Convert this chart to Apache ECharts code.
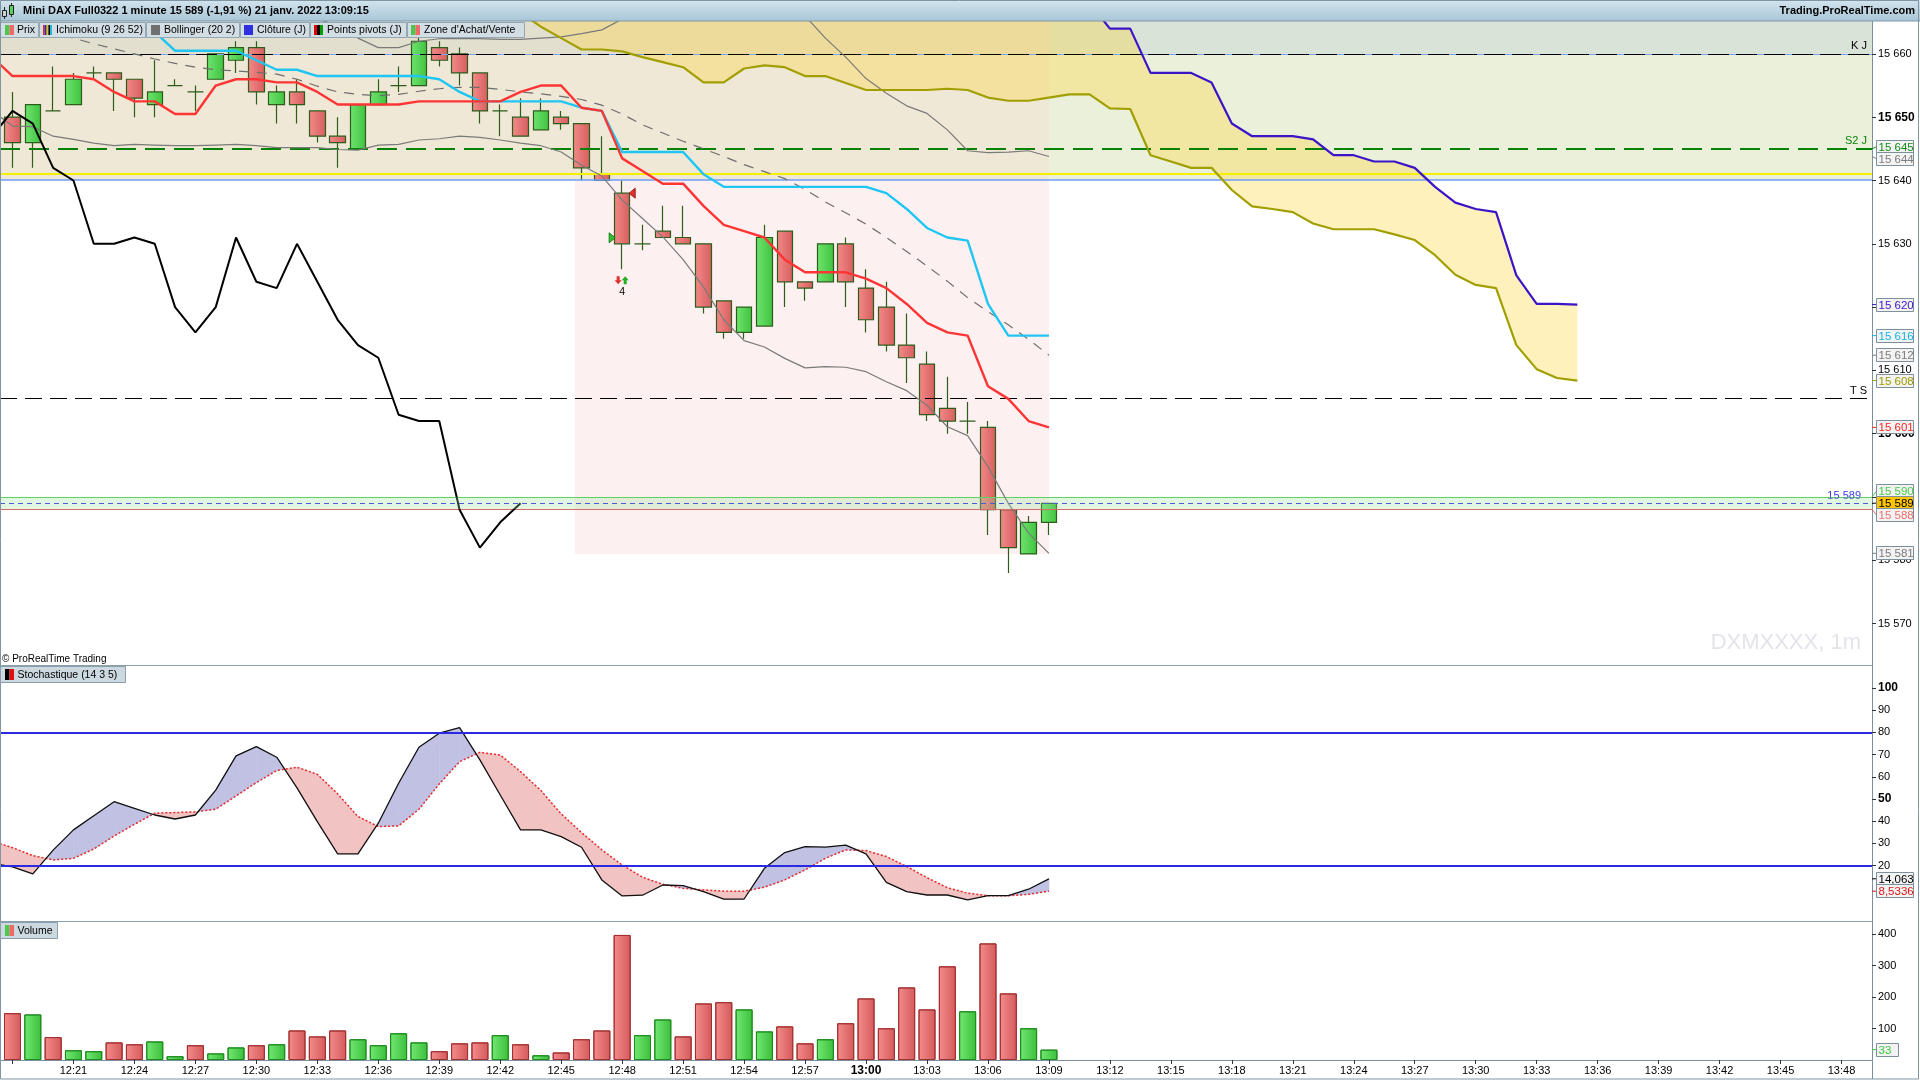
<!DOCTYPE html>
<html><head><meta charset="utf-8"><title>Mini DAX Full0322</title>
<script src="https://cdn.jsdelivr.net/npm/echarts@6.0.0/dist/echarts.min.js"></script>
<style>html,body{margin:0;padding:0;background:#fff;overflow:hidden}#chart{width:1920px;height:1080px}</style>
</head><body><div id="chart"></div><script>
// ================= DATA =================
const candleTimes = ['12:18','12:19','12:20','12:21','12:22','12:23','12:24','12:25','12:26','12:27','12:28','12:29','12:30','12:31','12:32','12:33','12:34','12:35','12:36','12:37','12:38','12:39','12:40','12:41','12:42','12:43','12:44','12:45','12:46','12:47','12:48','12:49','12:50','12:51','12:52','12:53','12:54','12:55','12:56','12:57','12:58','12:59','13:00','13:01','13:02','13:03','13:04','13:05','13:06','13:07','13:08','13:09'];
const open  = [15650,15646,15651,15652,15657,15657,15656,15652,15655,15654,15656,15659,15661,15652,15654,15651,15647,15645,15652,15655,15655,15661,15660,15657,15651,15650,15648,15650,15649,15641,15638,15630,15632,15631,15630,15621,15616,15617,15632,15624,15624,15630,15623,15620,15614,15611,15604,15602,15601,15588,15581,15586];
const close = [15646,15652,15651,15656,15657,15656,15653,15654,15655,15654,15660,15661,15654,15654,15652,15647,15646,15652,15654,15655,15662,15659,15657,15651,15651,15647,15651,15649,15642,15640,15630,15630,15631,15630,15620,15616,15620,15631,15624,15623,15630,15624,15618,15614,15612,15603,15602,15602,15588,15582,15586,15589];
const low   = [15642,15642,15651,15652,15656,15651,15650,15650,15655,15651,15656,15657,15652,15649,15649,15646,15642,15645,15652,15654,15655,15658,15655,15649,15647,15647,15648,15648,15640,15640,15626,15629,15631,15630,15619,15615,15615,15617,15620,15621,15624,15620,15616,15613,15608,15602,15600,15600,15584,15578,15581,15584];
const high  = [15654,15652,15658,15657,15658,15657,15656,15659,15656,15655,15660,15662,15662,15655,15656,15651,15650,15652,15656,15658,15663,15662,15661,15657,15652,15653,15653,15651,15649,15647,15640,15633,15636,15636,15630,15621,15620,15633,15632,15624,15630,15631,15626,15624,15619,15613,15609,15605,15602,15588,15587,15589];
const volume   = [149,145,73,31,28,56,50,59,12,47,21,40,47,50,94,75,94,66,47,85,56,28,53,56,79,50,15,24,66,94,398,79,129,75,180,184,161,91,107,53,66,117,196,101,231,161,298,155,371,212,101,33];
const volumeUp = [0,1,0,1,1,0,0,1,1,0,1,1,0,1,0,0,0,1,1,1,1,0,0,0,1,0,1,0,0,0,0,1,1,0,0,0,1,1,0,0,1,0,0,0,0,0,0,1,0,0,1,1];

const lineTimes = ['12:17','12:18','12:19','12:20','12:21','12:22','12:23','12:24','12:25','12:26','12:27','12:28','12:29','12:30','12:31','12:32','12:33','12:34','12:35','12:36','12:37','12:38','12:39','12:40','12:41','12:42','12:43','12:44','12:45','12:46','12:47','12:48','12:49','12:50','12:51','12:52','12:53','12:54','12:55','12:56','12:57','12:58','12:59','13:00','13:01','13:02','13:03','13:04','13:05','13:06','13:07','13:08','13:09'];
const tenkan = [15659.5,15656.5,15656.5,15656.5,15656.5,15656,15654,15652.5,15652.5,15650.5,15650.5,15655,15656,15656,15655.5,15655.5,15654,15652,15652,15652,15652,15652.5,15652.5,15652.5,15652.5,15652.5,15654,15655,15655,15651.5,15651,15643.5,15641.5,15639.5,15639.5,15636,15633,15632,15631,15627.5,15625.5,15625.5,15625.5,15624.5,15623,15620.5,15617.5,15616,15615.5,15607.5,15605.5,15602,15601];
const kijun = [15664,15664,15664,15664,15664,15664,15664,15664,15663.5,15660.5,15660.5,15660.5,15660.5,15659,15657.5,15657.5,15656.5,15656.5,15656.5,15656.5,15656.5,15656.5,15656,15654,15652.5,15652.5,15652.5,15652.5,15652.5,15651.5,15651,15644.5,15644.5,15644.5,15644.5,15641,15639,15639,15639,15639,15639,15639,15639,15639,15638,15635.5,15632.5,15631,15630.5,15620.5,15615.5,15615.5,15615.5];
const bbUpper = [15667,15667,15666.5,15666.5,15666,15666,15666,15666.5,15666.5,15666.5,15666,15666,15666,15666,15665.8,15665.5,15665.5,15664.5,15662.5,15661,15661,15662,15662.4,15662.4,15662.4,15662.3,15662.3,15662.5,15662.7,15663.2,15663.8,15665.5,15667,15668,15668.5,15669,15669,15669,15668.5,15668,15666,15662.5,15659.5,15656.1,15653.8,15651.8,15650.6,15648,15644.7,15644.4,15644.5,15644.7,15643.8];
const bbMiddle = [15665,15664.5,15664,15663.3,15662.5,15661.6,15660.8,15660,15659.2,15658.5,15657.9,15657.5,15657.3,15657.1,15656.8,15656,15654.9,15654,15653.6,15653.4,15653.6,15654.1,15654.5,15654.7,15654.7,15654.4,15654,15653.7,15653.3,15652.8,15651.9,15650.5,15648.8,15647.5,15646.2,15645,15643.8,15642.5,15641.4,15640.3,15638.6,15636.6,15634.9,15633.1,15631,15628.8,15626.5,15624.1,15621.5,15619.3,15617.2,15614.9,15612.4];
const bbLower = [15651,15648.6,15648.5,15647,15646.5,15645.9,15645.5,15645.7,15645.6,15645.5,15645.5,15645.6,15645.7,15645.5,15645.2,15645.2,15645.2,15644.9,15644.8,15645.6,15645.7,15646.4,15646.6,15647,15646.8,15646.4,15645.9,15645.5,15644.5,15642.4,15640.7,15636.9,15634,15631.1,15627.5,15623.2,15618,15614.7,15613.7,15611.9,15610.4,15610.6,15610.5,15609.8,15608.2,15606.8,15604.5,15601.1,15599.7,15594.8,15589,15584.3,15581.1];
const chikouTimes = ['12:17','12:18','12:19','12:20','12:21','12:22','12:23','12:24','12:25','12:26','12:27','12:28','12:29','12:30','12:31','12:32','12:33','12:34','12:35','12:36','12:37','12:38','12:39','12:40','12:41','12:42','12:43'];
const chikou = [15647,15651,15649,15642,15640,15630,15630,15631,15630,15620,15616,15620,15631,15624,15623,15630,15624,15618,15614,15612,15603,15602,15602,15588,15582,15586,15589];
const spanTimes = ['12:43','12:44','12:45','12:46','12:47','12:48','12:49','12:50','12:51','12:52','12:53','12:54','12:55','12:56','12:57','12:58','12:59','13:00','13:01','13:02','13:03','13:04','13:05','13:06','13:07','13:08','13:09','13:10','13:11','13:12','13:13','13:14','13:15','13:16','13:17','13:18','13:19','13:20','13:21','13:22','13:23','13:24','13:25','13:26','13:27','13:28','13:29','13:30','13:31','13:32','13:33','13:34','13:35'];
const spanA = [15666.5,15664.3,15662.5,15660.7,15660.7,15660.4,15659.5,15658.7,15657.9,15655.5,15655.5,15657.7,15658.2,15657.9,15656.5,15656.5,15655.4,15654.3,15654.3,15654.3,15654.3,15654.5,15654.3,15653.1,15652.6,15652.6,15653.1,15653.6,15653.6,15651.4,15651.3,15644,15643,15642,15642,15638.5,15635.9,15635.5,15635,15633.2,15632.3,15632.3,15632.3,15631.5,15630.6,15628.2,15625.1,15623.5,15623,15614,15610.2,15608.8,15608.4];
const spanB = [15672,15672,15672,15671.5,15671.5,15671.5,15671,15671,15671,15671,15671,15670.5,15670.5,15670.5,15670.5,15670.5,15670.5,15670,15670,15670,15670,15670,15670,15670,15670,15670,15670,15669.5,15668,15664,15664,15657,15657,15657,15655.5,15649,15647,15647,15647,15646.5,15644,15644,15643,15643,15642,15639,15636.5,15635.5,15635,15625,15620.5,15620.5,15620.4];
const stochK = [21,19.5,16.3,27,36.1,42.5,48.8,45.8,42.8,41,42.8,54,69.4,73.6,68.8,55,39.8,25.3,25.3,39.1,57.1,73.3,79.6,82.1,67.6,51.8,36.1,36.1,33.1,28.3,13.6,6.4,6.7,11.3,11,8.3,4.9,5,18.8,25.9,28.6,28.3,29.2,25.3,12.5,8.3,6.8,6.8,4.6,6.5,6.5,9.4,14.063];
const stochD = [31,28.1,24.5,22.6,23.3,27.5,33.4,38.6,43.6,43.9,44.2,45.4,51.4,57.4,62.8,64.3,61.1,52.3,42.1,37.6,37.9,45.4,56.8,66.8,71,69.8,62.3,53.8,43.3,34.9,27.1,20.3,14.8,11.6,9.8,9.1,8.5,8.5,10.3,13.6,18.1,23.3,27.1,26.8,24.1,19.6,14.6,10.1,7.6,6.5,6.5,7.1,8.5336];

const pivotKJ = 15660, pivotS2J = 15645, pivotTS = 15605.6;
const prevDayClose = 15640.1, yellowLevel = 15641;
const zoneHigh = 15590, zoneLow = 15588.1;
const zoneStart  = ['12:17','12:17','12:17','12:17','12:45:40'];
const zoneEnd    = ['13:50','13:50','13:09','13:09','13:09'];
const zoneBottom = [15660,15640.1,15660,15640.1,15581];
const zoneTop    = [15670,15660,15670,15660,15640.1];
const priceTicks = [15570,15580,15590,15600,15610,15620,15630,15640,15650,15660];
const boldPriceTicks = [15600,15650];
const stochTicks = [20,30,40,50,60,70,80,90,100];
const boldStochTicks = [50,100];
const stochLevels = [80,20];
const volTicks = [100,200,300,400];
const tickTimes  = ['12:18','12:21','12:24','12:27','12:30','12:33','12:36','12:39','12:42','12:45','12:48','12:51','12:54','12:57','13:00','13:03','13:06','13:09','13:12','13:15','13:18','13:21','13:24','13:27','13:30','13:33','13:36','13:39','13:42','13:45','13:48'];
const labelTimes = ['12:21','12:24','12:27','12:30','12:33','12:36','12:39','12:42','12:45','12:48','12:51','12:54','12:57','13:00','13:03','13:06','13:09','13:12','13:15','13:18','13:21','13:24','13:27','13:30','13:33','13:36','13:39','13:42','13:45','13:48'];
const boldTimeLabels = ['13:00'];
const signalTime = '12:48', signalCount = '4';

// ================= LAYOUT / STYLE =================
const FONT = '"Liberation Sans", Arial, sans-serif';
const X_MIN = 17.385, X_MAX = 109.5;
const P_MIN = 15563.46, P_MAX = 15665.2;
const S_MIN = -4.9, S_MAX = 110.3;
const V_MAX = 442.4;
const PLOT_W = 1872;
const G = [{left:0, top:21, width:PLOT_W, height:644},{left:0, top:665, width:PLOT_W, height:256},{left:0, top:921, width:PLOT_W, height:139}];
const ZONE_COLORS = ['#d9e3d8','#eaf0da','#e3dfcf','#efe8d6','#fdf0f0'];
const CLOUD_FILL = 'rgba(255,214,50,0.33)';
const AXIS_COLOR = '#7890a0';

const toMin = s => { const p = s.split(':').map(Number); return p[0]*60 + p[1] + (p[2]||0)/60 - 720; };
const minLabel = v => { const t = Math.round(v) + 720; return Math.floor(t/60) + ':' + String(t%60).padStart(2,'0'); };
const thou = v => String(v).replace(/\B(?=(\d{3})+(?!\d))/g, ' ');
const pairs = (times, vals) => times.map((t,i) => [toMin(t), vals[i]]);
const lg = (a,b,dir) => new echarts.graphic.LinearGradient(0,0,dir?0:1,dir?1:0,[{offset:0,color:a},{offset:1,color:b}]);
const clipOf = cs => ({type:'rect', shape:{x:cs.x, y:cs.y, width:cs.width, height:cs.height}});

const GREEN_BODY = lg('#6fe46f','#40c240'), RED_BODY = lg('#f38a8a','#d65e5e');
const GREEN_VOL = lg('#72e872','#3cbe3c'), RED_VOL = lg('#f48c8c','#d45a5a');

const chart = echarts.init(document.getElementById('chart'), null, {width:1920, height:1080});

const xAxes = G.map((g,i) => ({
  type:'value', gridIndex:i, min:X_MIN, max:X_MAX,
  axisLine:{show:i===2, lineStyle:{color:AXIS_COLOR}},
  axisTick:{show:i===2, length:4, customValues: tickTimes.map(toMin), lineStyle:{color:'#333'}},
  axisLabel:{show:i===2, customValues: labelTimes.map(toMin), fontSize:11, color:'#000', margin:5, fontFamily:FONT,
    formatter: v => boldTimeLabels.includes(minLabel(v)) ? '{b|'+minLabel(v)+'}' : minLabel(v),
    rich:{b:{fontWeight:'bold', fontSize:12, fontFamily:FONT}}},
  splitLine:{show:false}
}));

const yAx = (i, min, max, ticks, fmt) => ({
  type:'value', gridIndex:i, position:'right', min, max,
  axisLine:{show:true, lineStyle:{color:AXIS_COLOR}},
  axisTick:{show:true, length:4, customValues:ticks, lineStyle:{color:'#333'}},
  axisLabel:{customValues:ticks, formatter:fmt, fontSize:11, color:'#000', margin:6, fontFamily:FONT,
    rich:{b:{fontWeight:'bold', fontSize:12, fontFamily:FONT}}},
  splitLine:{show:false}
});

const lineS = (times, vals, color, width, z, type) => ({
  type:'line', xAxisIndex:0, yAxisIndex:0, data:pairs(times, vals), symbol:'none', z, silent:true,
  lineStyle:{color, width, type: type || 'solid'}, clip:true
});

const hline = (v, color, width, type, label, lcolor, dist) => ({
  yAxis:v, lineStyle:{color, width, type},
  label: label ? {show:true, position:'insideEndTop', formatter:label, color:lcolor||color, fontSize:11, fontFamily:FONT, distance:[dist||5,2]} : {show:false}
});

const option = {
  animation:false,
  textStyle:{fontFamily:FONT},
  grid:G,
  xAxis:xAxes,
  yAxis:[
    yAx(0, P_MIN, P_MAX, priceTicks, v => boldPriceTicks.includes(v) ? '{b|'+thou(v)+'}' : thou(v)),
    yAx(1, S_MIN, S_MAX, stochTicks, v => boldStochTicks.includes(v) ? '{b|'+v+'}' : String(v)),
    yAx(2, 0, V_MAX, volTicks, v => String(v))
  ],
  series:[
    { // background zones
      type:'custom', xAxisIndex:0, yAxisIndex:0, z:1, silent:true,
      data: zoneStart.map((s,i) => [toMin(s), toMin(zoneEnd[i]), zoneBottom[i], zoneTop[i]]),
      encode:{x:[0,1], y:[2,3]},
      renderItem:(params, api) => {
        const a = api.coord([api.value(0), api.value(3)]), b = api.coord([api.value(1), api.value(2)]);
        return {type:'rect', shape:{x:a[0], y:a[1], width:b[0]-a[0], height:b[1]-a[1]},
          style:{fill:ZONE_COLORS[params.dataIndex]}, clipPath:clipOf(params.coordSys)};
      }
    },
    { // ichimoku cloud
      type:'custom', xAxisIndex:0, yAxisIndex:0, z:2, silent:true,
      data:[[toMin(spanTimes[20]), spanA[20]]],
      renderItem:(params, api) => {
        const pts = [];
        spanTimes.forEach((t,i) => pts.push(api.coord([toMin(t), spanB[i]])));
        for (let i = spanTimes.length-1; i >= 0; i--) pts.push(api.coord([toMin(spanTimes[i]), spanA[i]]));
        return {type:'polygon', shape:{points:pts}, style:{fill:CLOUD_FILL}, clipPath:clipOf(params.coordSys)};
      }
    },
    { // daily levels
      type:'line', xAxisIndex:0, yAxisIndex:0, z:3, data:[], symbol:'none', silent:true,
      markLine:{symbol:['none','none'], silent:true, animation:false, data:[
        hline(pivotKJ, '#79a7f5', 1, 'solid'),
        hline(pivotKJ, '#000', 1, [21,7], 'K J', '#000'),
        hline(pivotS2J, '#078207', 2.2, [20,9], 'S2 J', '#078207'),
        hline(yellowLevel, '#f5ef00', 2, 'solid'),
        hline(prevDayClose, '#6f9ef7', 1.5, 'solid'),
        hline(pivotTS, '#000', 1, [17,8], 'T S', '#000')
      ]}
    },
    {
      type:'candlestick', xAxisIndex:0, yAxisIndex:0, z:4, barWidth:16, silent:true,
      data: candleTimes.map((t,i) => [toMin(t), open[i], close[i], low[i], high[i]]),
      encode:{x:0, y:[1,2,3,4]},
      itemStyle:{color:GREEN_BODY, color0:RED_BODY, borderColor:'#2d5c1b', borderColor0:'#2d5c1b', borderWidth:1.2}
    },
    lineS(lineTimes, bbUpper, '#7a7a7a', 1.2, 5),
    lineS(lineTimes, bbMiddle, '#6e6e6e', 1.2, 5, [10,8]),
    lineS(lineTimes, bbLower, '#7a7a7a', 1.2, 5),
    lineS(spanTimes, spanA, '#a19f00', 2.2, 5),
    lineS(spanTimes, spanB, '#3b14c8', 2.2, 5),
    lineS(lineTimes, kijun, '#1fc6f4', 2.4, 6),
    lineS(lineTimes, tenkan, '#ff3535', 2.4, 6),
    lineS(chikouTimes, chikou, '#000000', 2, 7),
    { // buy / sell band around last price
      type:'custom', xAxisIndex:0, yAxisIndex:0, z:8, silent:true,
      data:[[toMin('12:17'), toMin('13:50'), zoneLow, zoneHigh]],
      encode:{x:[0,1], y:[2,3]},
      renderItem:(params, api) => {
        const a = api.coord([api.value(0), api.value(3)]), b = api.coord([api.value(1), api.value(2)]);
        return {type:'rect', shape:{x:a[0], y:a[1], width:b[0]-a[0], height:b[1]-a[1]},
          style:{fill:'rgba(150,228,150,0.28)'}, clipPath:clipOf(params.coordSys)};
      }
    },
    {
      type:'line', xAxisIndex:0, yAxisIndex:0, z:9, data:[], symbol:'none', silent:true,
      markLine:{symbol:['none','none'], silent:true, animation:false, data:[
        hline(zoneHigh, '#4ccc4c', 1.2, 'solid'),
        hline(zoneLow, '#d86a6a', 1.2, 'solid'),
        hline(close[close.length-1], '#2a2af2', 1.2, [5,4], thou(close[close.length-1]), '#3a3af0', 11)
      ]}
    },
    // ---- stochastic ----
    {
      type:'custom', xAxisIndex:1, yAxisIndex:1, z:1, silent:true,
      data:[[toMin(lineTimes[10]), stochK[10]]],
      renderItem:(params, api) => {
        const ch = [];
        const poly = (pts, up) => ch.push({type:'polygon', shape:{points:pts.map(p => api.coord(p))},
          style:{fill: up ? '#c1c1e3' : '#f2c3c3', stroke: up ? '#c1c1e3' : '#f2c3c3', lineWidth:0.6}});
        for (let i = 0; i < lineTimes.length-1; i++) {
          const x0 = toMin(lineTimes[i]), x1 = toMin(lineTimes[i+1]);
          const k0 = stochK[i], k1 = stochK[i+1], d0 = stochD[i], d1 = stochD[i+1];
          const e0 = k0-d0, e1 = k1-d1;
          if (e0*e1 >= 0) poly([[x0,k0],[x1,k1],[x1,d1],[x0,d0]], e0+e1 > 0);
          else {
            const t = e0/(e0-e1), xc = x0 + t*(x1-x0), vc = k0 + t*(k1-k0);
            poly([[x0,k0],[xc,vc],[x0,d0]], e0 > 0);
            poly([[xc,vc],[x1,k1],[x1,d1]], e1 > 0);
          }
        }
        return {type:'group', children:ch, clipPath:clipOf(params.coordSys)};
      }
    },
    {type:'line', xAxisIndex:1, yAxisIndex:1, z:2, symbol:'none', silent:true, data:pairs(lineTimes, stochD),
      lineStyle:{color:'#e42a2a', width:1.5, type:[2,2]}},
    {type:'line', xAxisIndex:1, yAxisIndex:1, z:3, symbol:'none', silent:true, data:pairs(lineTimes, stochK),
      lineStyle:{color:'#111', width:1.3},
      markLine:{symbol:['none','none'], silent:true, animation:false, label:{show:false},
        data: stochLevels.map(v => ({yAxis:v, lineStyle:{color:'#2a2ae2', width:2, type:'solid'}}))}},
    // ---- volume ----
    {type:'bar', xAxisIndex:2, yAxisIndex:2, barWidth:17, silent:true,
      data: candleTimes.map((t,i) => ({
        value:[toMin(t), volume[i]],
        itemStyle:{color: volumeUp[i] ? GREEN_VOL : RED_VOL, borderColor: volumeUp[i] ? '#1d8c1d' : '#a33030', borderWidth:1}
      }))}
  ]
};
chart.setOption(option);

// ================= OVERLAY GRAPHICS =================
const gr = [];
const Z = 100;
const txt = (x, y, text, o) => gr.push(Object.assign({type:'text', z:Z, silent:true,
  style:Object.assign({x, y, text, fill:'#000', font:'10.5px '+FONT, verticalAlign:'middle', align:'left'}, (o||{}))}));
const rect = (x, y, w, h, fill, stroke) => gr.push({type:'rect', z:Z, silent:true, shape:{x, y, width:w, height:h}, style:{fill, stroke:stroke||null, lineWidth:1}});
const line = (x1, y1, x2, y2, stroke, w) => gr.push({type:'line', z:Z, silent:true, shape:{x1, y1, x2, y2}, style:{stroke, lineWidth:w||1}});

// header
gr.push({type:'rect', z:Z, silent:true, shape:{x:0, y:0, width:1920, height:21}, style:{fill:lg('#d2e4ee','#a9c6d7',true)}});
line(0, 21, 1920, 21, '#7f98a8');
line(4.5, 7, 4.5, 19, '#222'); rect(2.5, 10.5, 4, 6, '#cfcfcf', '#222');
line(11.5, 3, 11.5, 17, '#222'); rect(9.5, 5.5, 4, 9, '#5ad25a', '#222');
txt(23, 11, 'Mini DAX Full0322 1 minute 15 589 (-1,91 %) 21 janv. 2022 13:09:15', {font:'bold 11px '+FONT});
txt(1915, 11, 'Trading.ProRealTime.com', {font:'bold 11px '+FONT, align:'right'});

// legend buttons
const legendItems = [
  {x:0.5, w:38, text:'Prix', tx:17, ix:5, icon:['#4cc84c','#f06868']},
  {x:39.5, w:106, text:'Ichimoku (9 26 52)', tx:56, ix:43, icon:['#e02a2a','#2525c8','#d8c800','#000000','#1ab8e8']},
  {x:146.5, w:93, text:'Bollinger (20 2)', tx:164, ix:151, icon:['#707070']},
  {x:240.5, w:69, text:'Clôture (J)', tx:257, ix:244, icon:['#3030e0']},
  {x:310.5, w:96, text:'Points pivots (J)', tx:327, ix:314, icon:['#e00000','#000000','#00a000']},
  {x:407.5, w:117, text:"Zone d'Achat/Vente", tx:424, ix:411, icon:['#4cc84c','#f06868']}
];
legendItems.forEach(it => {
  rect(it.x, 22.5, it.w, 15, '#d3dde4', '#93a7b4');
  const n = it.icon.length, iw = 9/n;
  it.icon.forEach((c,k) => rect(it.ix + k*iw, 25, iw, 10, c));
  txt(it.tx, 30.5, it.text);
});

// panel separators & frame
line(0, 665.5, PLOT_W, 665.5, '#8aa0ae');
line(0, 921.5, PLOT_W, 921.5, '#8aa0ae');
gr.push({type:'rect', z:Z, silent:true, shape:{x:0.5, y:0.5, width:1918, height:1078.5}, style:{fill:null, stroke:'#7f95a3', lineWidth:1}});
line(PLOT_W+0.5, 1060, PLOT_W+0.5, 1079, AXIS_COLOR);

// watermark & copyright
gr.push({type:'text', z:2, silent:true, style:{x:1861, y:643, text:'DXMXXXX, 1m', fill:'#e2e4ea', font:'22px '+FONT, align:'right', verticalAlign:'middle'}});
txt(2, 659, '© ProRealTime Trading', {font:'10px '+FONT});

// panel labels
rect(0.5, 666.5, 125, 16, '#cdd9e0', '#8c9ea9');
rect(5, 669, 4.5, 11, '#000'); rect(9.5, 669, 4.5, 11, '#e01010');
txt(17.5, 675, 'Stochastique (14 3 5)');
rect(0.5, 922.5, 57, 16, '#cdd9e0', '#8c9ea9');
rect(5, 925, 4.5, 11, '#4cc84c'); rect(9.5, 925, 4.5, 11, '#f06868');
txt(17.5, 931, 'Volume');

// right-axis value boxes
const yPix = (axis, v) => chart.convertToPixel({yAxisIndex:axis}, v);
function boxes(axis, list, gap) {
  list.forEach(m => { m.py = yPix(axis, m.v); m.y = m.py; });
  list.sort((a,b) => a.py - b.py);
  for (let it = 0; it < 200; it++) {
    let moved = false;
    for (let i = 0; i < list.length-1; i++) {
      const d = list[i+1].y - list[i].y;
      if (d < gap - 0.01) { const s = (gap-d)/2; list[i].y -= s; list[i+1].y += s; moved = true; }
    }
    if (!moved) break;
  }
  list.forEach(m => {
    line(PLOT_W, m.py, 1876.5, m.y, m.tick || m.c, 1);
    rect(1876.5, Math.round(m.y) - 6.5, m.w || 37, 13, m.bg || '#f3f3f3', '#7d8f9b');
    txt(1878.5, Math.round(m.y) + 0.5, m.t, {fill:m.c, font:'11.5px '+FONT});
  });
}
const last = a => a[a.length-1];
boxes(0, [
  {v:pivotS2J, t:thou(pivotS2J), c:'#138c13'},
  {v:last(bbUpper), t:thou(Math.round(last(bbUpper))), c:'#7c7c7c'},
  {v:last(spanB), t:thou(Math.round(last(spanB))), c:'#3b14c8'},
  {v:last(kijun), t:thou(Math.round(last(kijun))), c:'#12b4e6'},
  {v:last(bbMiddle), t:thou(Math.round(last(bbMiddle))), c:'#7c7c7c'},
  {v:last(spanA), t:thou(Math.round(last(spanA))), c:'#9d9b00'},
  {v:last(tenkan), t:thou(Math.round(last(tenkan))), c:'#ff2424'},
  {v:zoneHigh, t:thou(zoneHigh), c:'#46cc46'},
  {v:last(close), t:thou(last(close)), c:'#000', bg:'#ffc400'},
  {v:zoneLow, t:thou(Math.round(zoneLow)), c:'#f07070'},
  {v:last(bbLower), t:thou(Math.round(last(bbLower))), c:'#7c7c7c'}
], 12);
boxes(1, [
  {v:last(stochK), t:String(last(stochK)).replace('.', ','), c:'#000'},
  {v:last(stochD), t:String(last(stochD)).replace('.', ','), c:'#e01818'}
], 12.5);
boxes(2, [{v:last(volume), t:String(last(volume)), c:'#3cc83c', w:22}], 12);

// signal markers on the 12:48 candle
const si = candleTimes.indexOf(signalTime);
const sx = chart.convertToPixel({xAxisIndex:0}, toMin(signalTime));
const yo = yPix(0, open[si]), yc = yPix(0, close[si]), yl = yPix(0, low[si]);
gr.push({type:'polygon', z:Z, silent:true, shape:{points:[[sx+7, yo], [sx+13, yo-5], [sx+13, yo+5]]}, style:{fill:'#e03030', stroke:'#a01818'}});
gr.push({type:'polygon', z:Z, silent:true, shape:{points:[[sx-7, yc-6], [sx-13, yc-11], [sx-13, yc-1]]}, style:{fill:'#30c030', stroke:'#188018'}});
const ay = yl + 11;
gr.push({type:'polygon', z:Z, silent:true, shape:{points:[[sx-5.5,ay-4],[sx-2.5,ay-4],[sx-2.5,ay],[sx-0.5,ay],[sx-4,ay+4],[sx-7.5,ay],[sx-5.5,ay]]}, style:{fill:'#e03030'}});
gr.push({type:'polygon', z:Z, silent:true, shape:{points:[[sx+1.5,ay+4],[sx+4.5,ay+4],[sx+4.5,ay],[sx+6.5,ay],[sx+3,ay-4],[sx-0.5,ay],[sx+1.5,ay]]}, style:{fill:'#20b020'}});
txt(sx, yl + 22.5, signalCount, {align:'center', font:'10.5px '+FONT});

chart.setOption({graphic:{elements:gr}});
</script></body></html>
